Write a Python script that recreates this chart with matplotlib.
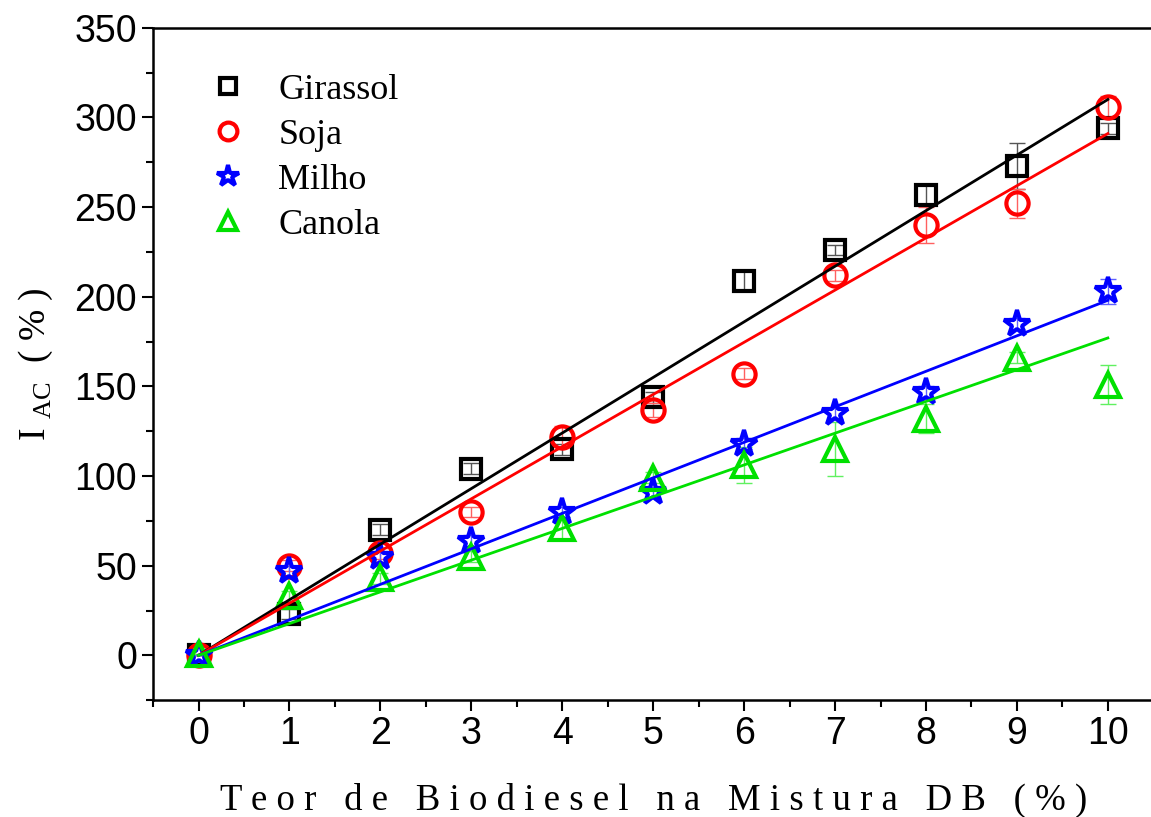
import numpy as np
import matplotlib.pyplot as plt
from matplotlib.ticker import MultipleLocator

# teor de biodiesel (%)
teor = np.arange(0, 11)

girassol = [0, 23, 70, 104, 115, 144, 209, 226, 257, 273, 294]
soja = [0, 50, 57, 80, 122, 137, 157, 212, 240, 252, 306]
milho = [0, 47, 55, 64, 80, 91, 118, 135, 147, 185, 203]
canola = [1, 33, 43, 55, 71, 99, 106, 115, 132, 166, 151]

girassol_err = [0, 3, 3, 3, 3, 3, 6, 3, 6, 13, 3]
soja_err = [0, 3, 3, 3, 6, 4, 3, 3, 10, 8, 6]
milho_err = [0, 3, 3, 3, 3, 3, 3, 3, 3, 3, 7]
canola_err = [0, 3, 3, 3, 6, 3, 10, 15, 8, 3, 11]

# inclinacao das retas ajustadas (passando pela origem)
inclinacao = [31.0, 29.1, 19.8, 17.7]

nomes = ['Girassol', 'Soja', 'Milho', 'Canola']
cores = ['black', 'red', 'blue', '#00e000']
cores_err = ['#555555', '#ff6060', '#6060ff', '#60f060']
marcadores = ['s', 'o', '*', '^']
tamanhos = [14, 16, 20, 17]

plt.rcParams['mathtext.fontset'] = 'custom'
plt.rcParams['mathtext.rm'] = 'Liberation Serif'

fig = plt.figure(figsize=(11.51, 8.17), dpi=100)
ax = fig.add_axes([0.133, 0.143, 0.869, 0.823])

series = [girassol, soja, milho, canola]
erros = [girassol_err, soja_err, milho_err, canola_err]
for y, e, a, nome, c, ce, m, s in zip(series, erros, inclinacao, nomes, cores,
                                      cores_err, marcadores, tamanhos):
    ax.errorbar(teor, y, yerr=e, fmt='none', ecolor=ce, elinewidth=1,
                capsize=6, capthick=1, zorder=2)
    ax.plot(teor, y, ls='none', marker=m, ms=s, mfc='none', mec=c,
            mew=3, label=nome, zorder=3)
    ax.plot(teor, a * teor, color=c, lw=2, zorder=4)

ax.set_xlim(-0.5, 10.5)
ax.set_ylim(-25, 350)
ax.xaxis.set_major_locator(MultipleLocator(1))
ax.xaxis.set_minor_locator(MultipleLocator(0.5))
ax.yaxis.set_major_locator(MultipleLocator(50))
ax.yaxis.set_minor_locator(MultipleLocator(25))
ax.tick_params(which='both', direction='out', width=1.5, labelsize=27,
               top=False, right=False)
ax.tick_params(which='major', length=8)
ax.tick_params(which='minor', length=5)
for lbl in ax.get_xticklabels() + ax.get_yticklabels():
    lbl.set_fontfamily('Liberation Sans')
for sp in ax.spines.values():
    sp.set_linewidth(1.8)

ax.set_xlabel('T e o r   d e   B i o d i e s e l   n a   M i s t u r a   D B   ( % )',
              fontfamily='Liberation Serif', fontsize=26.5, labelpad=22)
ax.set_ylabel(r'I $_{\mathrm{AC}}$  ( % )', fontfamily='Liberation Serif',
              fontsize=27, labelpad=14)

ax.legend(loc='upper left', bbox_to_anchor=(0.024, 0.98), frameon=False,
          prop={'family': 'Liberation Serif', 'size': 26}, handlelength=1.0,
          handletextpad=0.9, labelspacing=0.32, markerscale=0.8)

fig.savefig('out.png', dpi=100)
